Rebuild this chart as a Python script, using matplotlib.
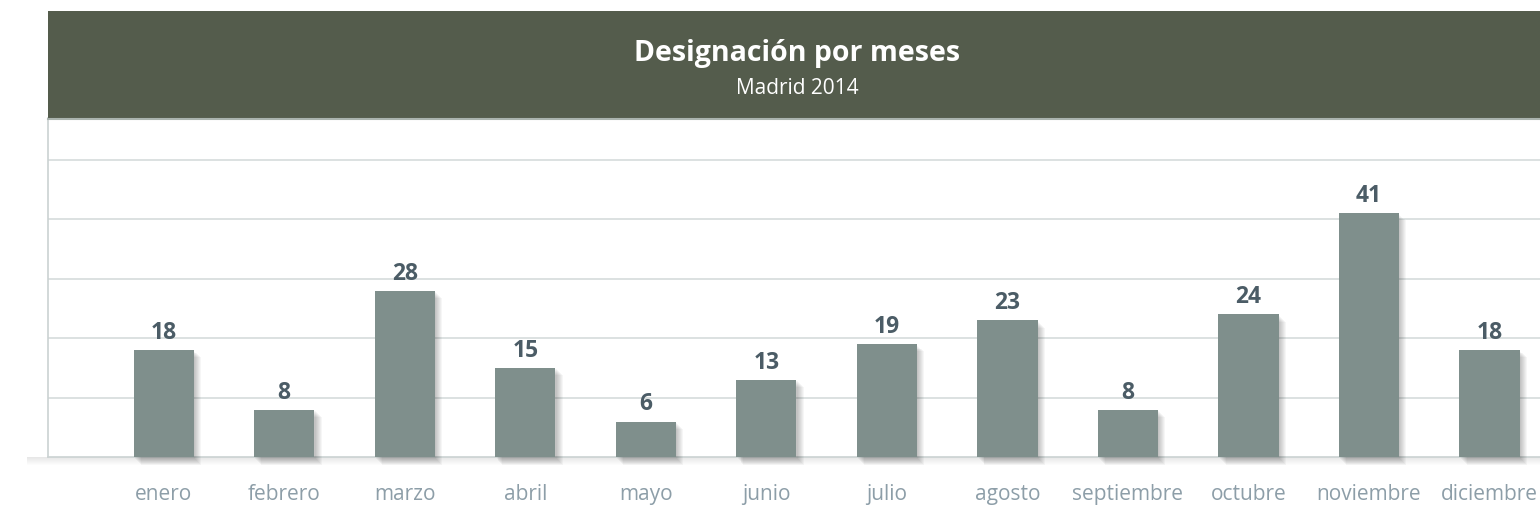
import matplotlib
matplotlib.use("Agg")
import matplotlib.pyplot as plt
import matplotlib.patches as mpatches
import matplotlib.patheffects as pe
import numpy as np

months = ["enero", "febrero", "marzo", "abril", "mayo", "junio", "julio",
          "agosto", "septiembre", "octubre", "noviembre", "diciembre"]
values = [18, 8, 28, 15, 6, 13, 19, 23, 8, 24, 41, 18]
title = "Designación por meses"
subtitle = "Madrid 2014"

HEADER = "#545c4c"
BAR = "#7f8f8c"
VALCOL = "#4b5c66"
MONCOL = "#8d9ea8"
GRID = "#d6dcdc"

plt.rcParams['font.family'] = ['Open Sans', 'DejaVu Sans']

W, H = 1540, 517
fig = plt.figure(figsize=(W / 100, H / 100), dpi=100)

def fx(px):
    return px / W

def fy(py):
    return 1 - py / H

# outer panel with faint shadow
panel = mpatches.Rectangle((fx(27), fy(457)), fx(1540) - fx(27), fy(8) - fy(457),
                           transform=fig.transFigure, facecolor="white",
                           edgecolor="none", zorder=0)
panel.set_path_effects([pe.SimplePatchShadow(offset=(0, -o), shadow_rgbFace="black", alpha=0.012)
                        for o in (0.7, 1.4, 2.1, 2.8, 3.5, 4.2, 4.9, 5.6)] + [pe.Normal()])
fig.add_artist(panel)

# header band
header = mpatches.Rectangle((fx(48), fy(118)), 1 - fx(48), fy(11) - fy(118),
                            transform=fig.transFigure, facecolor=HEADER,
                            edgecolor="none", zorder=2)
fig.add_artist(header)
fig.add_artist(plt.Line2D([fx(48), 1], [fy(118.5), fy(118.5)], transform=fig.transFigure,
                          color="#aab3ae", lw=1.5, zorder=3))
fig.text(fx(797), fy(54), title, color="white", fontsize=20.5, fontweight="bold",
         ha="center", va="center", zorder=4)
fig.text(fx(797), fy(89), subtitle, color="white", fontsize=15,
         ha="center", va="center", zorder=4)

ax = fig.add_axes([fx(48), fy(457.3), 1 - fx(48), fy(118) - fy(457.3)])
ax.set_facecolor("none")
x = np.arange(len(months))
bars = ax.bar(x, values, width=0.5, color=BAR, zorder=3, clip_on=False)
shadow = [pe.SimplePatchShadow(offset=(o, -o), shadow_rgbFace="black", alpha=0.035)
          for o in (1.0, 1.7, 2.4, 3.1, 3.8, 4.5, 5.2)]
for b in bars:
    b.set_path_effects(shadow + [pe.Normal()])

for xi, v in zip(x, values):
    ax.annotate(str(v), (xi, v), xytext=(0, 8), textcoords="offset points",
                ha="center", va="baseline", fontsize=16.5, fontweight="bold",
                color=VALCOL, zorder=5)

ax.set_xlim(-0.96, 11.419)
ax.set_ylim(0, 57)
ax.set_yticks([10, 20, 30, 40, 50])
ax.yaxis.grid(True, color=GRID, lw=1.2, zorder=0)
ax.tick_params(axis="y", length=0, labelleft=False)
ax.set_xticks(x)
ax.set_xticklabels(months, fontsize=15, color=MONCOL)
ax.tick_params(axis="x", length=0, pad=19)
for s in ("top", "right"):
    ax.spines[s].set_visible(False)
ax.spines["left"].set_color("#cbd2d2")
ax.spines["left"].set_linewidth(1.2)
ax.spines["bottom"].set_color("#cbd2d2")
ax.spines["bottom"].set_linewidth(1.2)
ax.set_axisbelow(True)

fig.savefig("out.png", dpi=100)
